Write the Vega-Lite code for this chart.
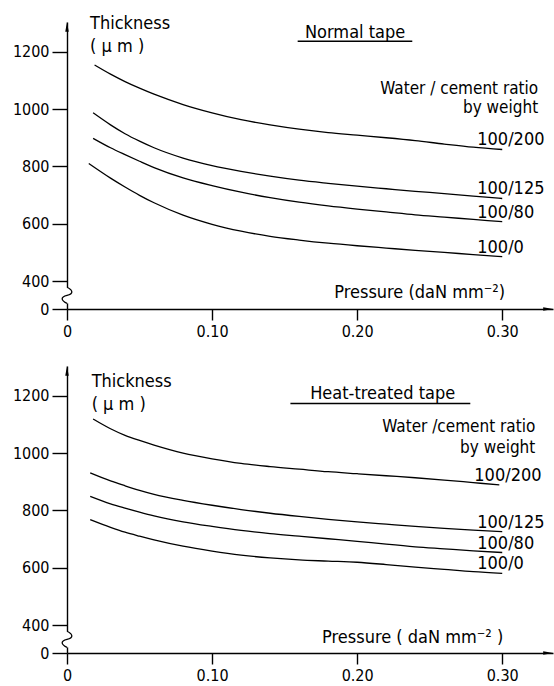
{
  "$schema": "https://vega.github.io/schema/vega-lite/v6.json",
  "background": "white",
  "padding": {"left": 12, "top": 15, "right": 0, "bottom": 0},
  "spacing": 57,
  "bounds": "flush",
  "config": {
    "view": {"stroke": null},
    "font": "DejaVu Sans Condensed",
    "text": {"font": "DejaVu Sans Condensed", "fontSize": 18, "color": "black", "baseline": "alphabetic"},
    "line": {"color": "black", "strokeWidth": 1.3, "interpolate": "monotone"},
    "axisX": {
      "domainColor": "black", "domainWidth": 1.4, "tickColor": "black", "tickWidth": 1.4, "tickSize": 11,
      "labelFont": "DejaVu Sans Condensed", "labelFontSize": 16, "labelColor": "black", "labelPadding": 3,
      "grid": false, "title": null, "labelFlush": false
    },
    "axisY": {
      "domainColor": "black", "domainWidth": 1.4, "tickColor": "black", "tickWidth": 1.4, "tickSize": 15,
      "labelFont": "DejaVu Sans Condensed", "labelFontSize": 16, "labelColor": "black", "labelPadding": 3,
      "grid": false, "title": null, "format": "d"
    }
  },
  "datasets": {
    "normal": [
      {"ratio": "100/200", "pressure": 0.019, "thickness": 1154},
      {"ratio": "100/200", "pressure": 0.03, "thickness": 1122},
      {"ratio": "100/200", "pressure": 0.04, "thickness": 1096},
      {"ratio": "100/200", "pressure": 0.05, "thickness": 1073},
      {"ratio": "100/200", "pressure": 0.06, "thickness": 1052},
      {"ratio": "100/200", "pressure": 0.08, "thickness": 1016},
      {"ratio": "100/200", "pressure": 0.10, "thickness": 987},
      {"ratio": "100/200", "pressure": 0.12, "thickness": 963},
      {"ratio": "100/200", "pressure": 0.14, "thickness": 945},
      {"ratio": "100/200", "pressure": 0.16, "thickness": 930},
      {"ratio": "100/200", "pressure": 0.18, "thickness": 918},
      {"ratio": "100/200", "pressure": 0.20, "thickness": 909},
      {"ratio": "100/200", "pressure": 0.22, "thickness": 900},
      {"ratio": "100/200", "pressure": 0.24, "thickness": 890},
      {"ratio": "100/200", "pressure": 0.26, "thickness": 878},
      {"ratio": "100/200", "pressure": 0.28, "thickness": 867},
      {"ratio": "100/200", "pressure": 0.30, "thickness": 859},
      {"ratio": "100/125", "pressure": 0.018, "thickness": 987},
      {"ratio": "100/125", "pressure": 0.03, "thickness": 945},
      {"ratio": "100/125", "pressure": 0.04, "thickness": 914},
      {"ratio": "100/125", "pressure": 0.05, "thickness": 888},
      {"ratio": "100/125", "pressure": 0.06, "thickness": 865},
      {"ratio": "100/125", "pressure": 0.08, "thickness": 829},
      {"ratio": "100/125", "pressure": 0.10, "thickness": 803},
      {"ratio": "100/125", "pressure": 0.12, "thickness": 783},
      {"ratio": "100/125", "pressure": 0.14, "thickness": 766},
      {"ratio": "100/125", "pressure": 0.16, "thickness": 752},
      {"ratio": "100/125", "pressure": 0.18, "thickness": 741},
      {"ratio": "100/125", "pressure": 0.20, "thickness": 731},
      {"ratio": "100/125", "pressure": 0.22, "thickness": 722},
      {"ratio": "100/125", "pressure": 0.24, "thickness": 713},
      {"ratio": "100/125", "pressure": 0.26, "thickness": 705},
      {"ratio": "100/125", "pressure": 0.28, "thickness": 696},
      {"ratio": "100/125", "pressure": 0.30, "thickness": 688},
      {"ratio": "100/80", "pressure": 0.018, "thickness": 898},
      {"ratio": "100/80", "pressure": 0.03, "thickness": 865},
      {"ratio": "100/80", "pressure": 0.04, "thickness": 841},
      {"ratio": "100/80", "pressure": 0.05, "thickness": 818},
      {"ratio": "100/80", "pressure": 0.06, "thickness": 796},
      {"ratio": "100/80", "pressure": 0.08, "thickness": 760},
      {"ratio": "100/80", "pressure": 0.10, "thickness": 733},
      {"ratio": "100/80", "pressure": 0.12, "thickness": 710},
      {"ratio": "100/80", "pressure": 0.14, "thickness": 691},
      {"ratio": "100/80", "pressure": 0.16, "thickness": 675},
      {"ratio": "100/80", "pressure": 0.18, "thickness": 662},
      {"ratio": "100/80", "pressure": 0.20, "thickness": 651},
      {"ratio": "100/80", "pressure": 0.22, "thickness": 641},
      {"ratio": "100/80", "pressure": 0.24, "thickness": 631},
      {"ratio": "100/80", "pressure": 0.26, "thickness": 623},
      {"ratio": "100/80", "pressure": 0.28, "thickness": 615},
      {"ratio": "100/80", "pressure": 0.30, "thickness": 607},
      {"ratio": "100/0", "pressure": 0.015, "thickness": 810},
      {"ratio": "100/0", "pressure": 0.03, "thickness": 759},
      {"ratio": "100/0", "pressure": 0.04, "thickness": 728},
      {"ratio": "100/0", "pressure": 0.05, "thickness": 699},
      {"ratio": "100/0", "pressure": 0.06, "thickness": 673},
      {"ratio": "100/0", "pressure": 0.08, "thickness": 630},
      {"ratio": "100/0", "pressure": 0.10, "thickness": 598},
      {"ratio": "100/0", "pressure": 0.12, "thickness": 574},
      {"ratio": "100/0", "pressure": 0.14, "thickness": 556},
      {"ratio": "100/0", "pressure": 0.16, "thickness": 543},
      {"ratio": "100/0", "pressure": 0.18, "thickness": 532},
      {"ratio": "100/0", "pressure": 0.20, "thickness": 523},
      {"ratio": "100/0", "pressure": 0.22, "thickness": 515},
      {"ratio": "100/0", "pressure": 0.24, "thickness": 507},
      {"ratio": "100/0", "pressure": 0.26, "thickness": 500},
      {"ratio": "100/0", "pressure": 0.28, "thickness": 492},
      {"ratio": "100/0", "pressure": 0.30, "thickness": 485}
    ],
    "heat": [
      {"ratio": "100/200", "pressure": 0.018, "thickness": 1119},
      {"ratio": "100/200", "pressure": 0.03, "thickness": 1085},
      {"ratio": "100/200", "pressure": 0.04, "thickness": 1062},
      {"ratio": "100/200", "pressure": 0.05, "thickness": 1044},
      {"ratio": "100/200", "pressure": 0.06, "thickness": 1028},
      {"ratio": "100/200", "pressure": 0.08, "thickness": 1000},
      {"ratio": "100/200", "pressure": 0.10, "thickness": 980},
      {"ratio": "100/200", "pressure": 0.12, "thickness": 964},
      {"ratio": "100/200", "pressure": 0.14, "thickness": 953},
      {"ratio": "100/200", "pressure": 0.16, "thickness": 944},
      {"ratio": "100/200", "pressure": 0.18, "thickness": 935},
      {"ratio": "100/200", "pressure": 0.20, "thickness": 928},
      {"ratio": "100/200", "pressure": 0.22, "thickness": 921},
      {"ratio": "100/200", "pressure": 0.24, "thickness": 914},
      {"ratio": "100/200", "pressure": 0.26, "thickness": 906},
      {"ratio": "100/200", "pressure": 0.28, "thickness": 897},
      {"ratio": "100/200", "pressure": 0.298, "thickness": 889},
      {"ratio": "100/125", "pressure": 0.016, "thickness": 931},
      {"ratio": "100/125", "pressure": 0.03, "thickness": 903},
      {"ratio": "100/125", "pressure": 0.04, "thickness": 886},
      {"ratio": "100/125", "pressure": 0.05, "thickness": 870},
      {"ratio": "100/125", "pressure": 0.06, "thickness": 856},
      {"ratio": "100/125", "pressure": 0.08, "thickness": 835},
      {"ratio": "100/125", "pressure": 0.10, "thickness": 818},
      {"ratio": "100/125", "pressure": 0.12, "thickness": 803},
      {"ratio": "100/125", "pressure": 0.14, "thickness": 790},
      {"ratio": "100/125", "pressure": 0.16, "thickness": 779},
      {"ratio": "100/125", "pressure": 0.18, "thickness": 769},
      {"ratio": "100/125", "pressure": 0.20, "thickness": 760},
      {"ratio": "100/125", "pressure": 0.22, "thickness": 752},
      {"ratio": "100/125", "pressure": 0.24, "thickness": 744},
      {"ratio": "100/125", "pressure": 0.26, "thickness": 737},
      {"ratio": "100/125", "pressure": 0.28, "thickness": 731},
      {"ratio": "100/125", "pressure": 0.30, "thickness": 726},
      {"ratio": "100/80", "pressure": 0.016, "thickness": 849},
      {"ratio": "100/80", "pressure": 0.03, "thickness": 823},
      {"ratio": "100/80", "pressure": 0.04, "thickness": 808},
      {"ratio": "100/80", "pressure": 0.05, "thickness": 794},
      {"ratio": "100/80", "pressure": 0.06, "thickness": 781},
      {"ratio": "100/80", "pressure": 0.08, "thickness": 760},
      {"ratio": "100/80", "pressure": 0.10, "thickness": 744},
      {"ratio": "100/80", "pressure": 0.12, "thickness": 730},
      {"ratio": "100/80", "pressure": 0.14, "thickness": 719},
      {"ratio": "100/80", "pressure": 0.16, "thickness": 710},
      {"ratio": "100/80", "pressure": 0.18, "thickness": 701},
      {"ratio": "100/80", "pressure": 0.20, "thickness": 692},
      {"ratio": "100/80", "pressure": 0.22, "thickness": 682},
      {"ratio": "100/80", "pressure": 0.24, "thickness": 673},
      {"ratio": "100/80", "pressure": 0.26, "thickness": 666},
      {"ratio": "100/80", "pressure": 0.28, "thickness": 659},
      {"ratio": "100/80", "pressure": 0.30, "thickness": 653},
      {"ratio": "100/0", "pressure": 0.016, "thickness": 768},
      {"ratio": "100/0", "pressure": 0.03, "thickness": 741},
      {"ratio": "100/0", "pressure": 0.04, "thickness": 724},
      {"ratio": "100/0", "pressure": 0.05, "thickness": 710},
      {"ratio": "100/0", "pressure": 0.06, "thickness": 697},
      {"ratio": "100/0", "pressure": 0.08, "thickness": 675},
      {"ratio": "100/0", "pressure": 0.10, "thickness": 658},
      {"ratio": "100/0", "pressure": 0.12, "thickness": 644},
      {"ratio": "100/0", "pressure": 0.14, "thickness": 634},
      {"ratio": "100/0", "pressure": 0.16, "thickness": 627},
      {"ratio": "100/0", "pressure": 0.18, "thickness": 623},
      {"ratio": "100/0", "pressure": 0.20, "thickness": 619},
      {"ratio": "100/0", "pressure": 0.22, "thickness": 611},
      {"ratio": "100/0", "pressure": 0.24, "thickness": 602},
      {"ratio": "100/0", "pressure": 0.26, "thickness": 594},
      {"ratio": "100/0", "pressure": 0.28, "thickness": 586},
      {"ratio": "100/0", "pressure": 0.30, "thickness": 580}
    ]
  },
  "vconcat": [
    {
      "width": 486,
      "height": 287,
      "layer": [
        {
          "data": {"name": "normal"},
          "mark": {"type": "line"},
          "encoding": {
            "x": {"field": "pressure", "type": "quantitative",
              "scale": {"domain": [0, 0.335], "nice": false, "zero": false},
              "axis": {"values": [0, 0.1, 0.2, 0.3], "labelExpr": "datum.value == 0 ? '0' : format(datum.value, '.2f')"}},
            "y": {"field": "thickness", "type": "quantitative",
              "scale": {"domain": [0, 400, 1304], "range": [287, 259, 0], "nice": false, "zero": false},
              "axis": {"values": [0, 400, 600, 800, 1000, 1200]}},
            "detail": {"field": "ratio"}
          }
        },
        {
          "data": {"name": "normal"},
          "transform": [
            {"joinaggregate": [{"op": "max", "field": "pressure", "as": "last"}], "groupby": ["ratio"]},
            {"filter": "datum.pressure == datum.last"}
          ],
          "mark": {"type": "text", "align": "left", "dx": -25, "dy": -4},
          "encoding": {
            "x": {"field": "pressure", "type": "quantitative"},
            "y": {"field": "thickness", "type": "quantitative"},
            "text": {"field": "ratio"}
          }
        },
        {
          "data": {"values": [{}]},
          "mark": {"type": "rule", "color": "white", "strokeWidth": 4},
          "encoding": {"x": {"datum": 0}, "y": {"datum": 80}, "y2": {"datum": 310}}
        },
        {
          "data": {"values": [{}]},
          "mark": {"type": "point", "shape": "M0,-1C0.8,-0.6 0.8,-0.2 0,0C-0.8,0.2 -0.8,0.6 0,1", "filled": false, "stroke": "black", "strokeWidth": 1.3, "size": 260, "opacity": 1},
          "encoding": {"x": {"datum": 0}, "y": {"datum": 195}}
        },
        {
          "data": {"values": [{}]},
          "mark": {"type": "point", "shape": "M-0.35,1L0,-1L0.35,1Z", "filled": true, "color": "black", "size": 100, "opacity": 1},
          "encoding": {"x": {"datum": 0}, "y": {"datum": 1287}}
        },
        {
          "data": {"values": [{}]},
          "mark": {"type": "point", "shape": "M-1,-0.35L1,0L-1,0.35Z", "filled": true, "color": "black", "size": 100, "opacity": 1},
          "encoding": {"x": {"datum": 0.3317}, "y": {"datum": 0}}
        },
        {
          "data": {"values": [{}]},
          "mark": {"type": "text", "text": "Thickness", "align": "left"},
          "encoding": {"x": {"datum": 0.0159}, "y": {"datum": 1278}}
        },
        {
          "data": {"values": [{}]},
          "mark": {"type": "text", "text": "( μ m )", "align": "left"},
          "encoding": {"x": {"datum": 0.0159}, "y": {"datum": 1198}}
        },
        {
          "data": {"values": [{}]},
          "mark": {"type": "text", "text": "Normal tape", "align": "center"},
          "encoding": {"x": {"datum": 0.1986}, "y": {"datum": 1248}}
        },
        {
          "data": {"values": [{}]},
          "mark": {"type": "rule", "color": "black", "strokeWidth": 1.4},
          "encoding": {"x": {"datum": 0.159}, "x2": {"datum": 0.238}, "y": {"datum": 1237}}
        },
        {
          "data": {"values": [{}]},
          "mark": {"type": "text", "text": "Water / cement ratio", "align": "right", "fontSize": 17},
          "encoding": {"x": {"datum": 0.3248}, "y": {"datum": 1052}}
        },
        {
          "data": {"values": [{}]},
          "mark": {"type": "text", "text": "by weight", "align": "right", "fontSize": 17},
          "encoding": {"x": {"datum": 0.3248}, "y": {"datum": 986}}
        },
        {
          "data": {"values": [{}]},
          "mark": {"type": "text", "text": "Pressure (daN mm⁻²)", "align": "right"},
          "encoding": {"x": {"datum": 0.302}, "y": {"datum": 157}}
        }
      ]
    },
    {
      "width": 486,
      "height": 287,
      "layer": [
        {
          "data": {"name": "heat"},
          "mark": {"type": "line"},
          "encoding": {
            "x": {"field": "pressure", "type": "quantitative",
              "scale": {"domain": [0, 0.335], "nice": false, "zero": false},
              "axis": {"values": [0, 0.1, 0.2, 0.3], "labelExpr": "datum.value == 0 ? '0' : format(datum.value, '.2f')"}},
            "y": {"field": "thickness", "type": "quantitative",
              "scale": {"domain": [0, 400, 1304], "range": [287, 259, 0], "nice": false, "zero": false},
              "axis": {"values": [0, 400, 600, 800, 1000, 1200]}},
            "detail": {"field": "ratio"}
          }
        },
        {
          "data": {"name": "heat"},
          "transform": [
            {"joinaggregate": [{"op": "max", "field": "pressure", "as": "last"}], "groupby": ["ratio"]},
            {"filter": "datum.pressure == datum.last"}
          ],
          "mark": {"type": "text", "align": "left", "dx": -25, "dy": -4},
          "encoding": {
            "x": {"field": "pressure", "type": "quantitative"},
            "y": {"field": "thickness", "type": "quantitative"},
            "text": {"field": "ratio"}
          }
        },
        {
          "data": {"values": [{}]},
          "mark": {"type": "rule", "color": "white", "strokeWidth": 4},
          "encoding": {"x": {"datum": 0}, "y": {"datum": 80}, "y2": {"datum": 310}}
        },
        {
          "data": {"values": [{}]},
          "mark": {"type": "point", "shape": "M0,-1C0.8,-0.6 0.8,-0.2 0,0C-0.8,0.2 -0.8,0.6 0,1", "filled": false, "stroke": "black", "strokeWidth": 1.3, "size": 260, "opacity": 1},
          "encoding": {"x": {"datum": 0}, "y": {"datum": 195}}
        },
        {
          "data": {"values": [{}]},
          "mark": {"type": "point", "shape": "M-0.35,1L0,-1L0.35,1Z", "filled": true, "color": "black", "size": 100, "opacity": 1},
          "encoding": {"x": {"datum": 0}, "y": {"datum": 1287}}
        },
        {
          "data": {"values": [{}]},
          "mark": {"type": "point", "shape": "M-1,-0.35L1,0L-1,0.35Z", "filled": true, "color": "black", "size": 100, "opacity": 1},
          "encoding": {"x": {"datum": 0.3317}, "y": {"datum": 0}}
        },
        {
          "data": {"values": [{}]},
          "mark": {"type": "text", "text": "Thickness", "align": "left"},
          "encoding": {"x": {"datum": 0.017}, "y": {"datum": 1229}}
        },
        {
          "data": {"values": [{}]},
          "mark": {"type": "text", "text": "( μ m )", "align": "left"},
          "encoding": {"x": {"datum": 0.017}, "y": {"datum": 1151}}
        },
        {
          "data": {"values": [{}]},
          "mark": {"type": "text", "text": "Heat-treated tape", "align": "center"},
          "encoding": {"x": {"datum": 0.2176}, "y": {"datum": 1190}}
        },
        {
          "data": {"values": [{}]},
          "mark": {"type": "rule", "color": "black", "strokeWidth": 1.4},
          "encoding": {"x": {"datum": 0.154}, "x2": {"datum": 0.278}, "y": {"datum": 1173}}
        },
        {
          "data": {"values": [{}]},
          "mark": {"type": "text", "text": "Water /cement ratio", "align": "right", "fontSize": 17},
          "encoding": {"x": {"datum": 0.3228}, "y": {"datum": 1072}}
        },
        {
          "data": {"values": [{}]},
          "mark": {"type": "text", "text": "by weight", "align": "right", "fontSize": 17},
          "encoding": {"x": {"datum": 0.3228}, "y": {"datum": 1000}}
        },
        {
          "data": {"values": [{}]},
          "mark": {"type": "text", "text": "Pressure ( daN mm⁻² )", "align": "right"},
          "encoding": {"x": {"datum": 0.3007}, "y": {"datum": 141}}
        }
      ]
    }
  ]
}
